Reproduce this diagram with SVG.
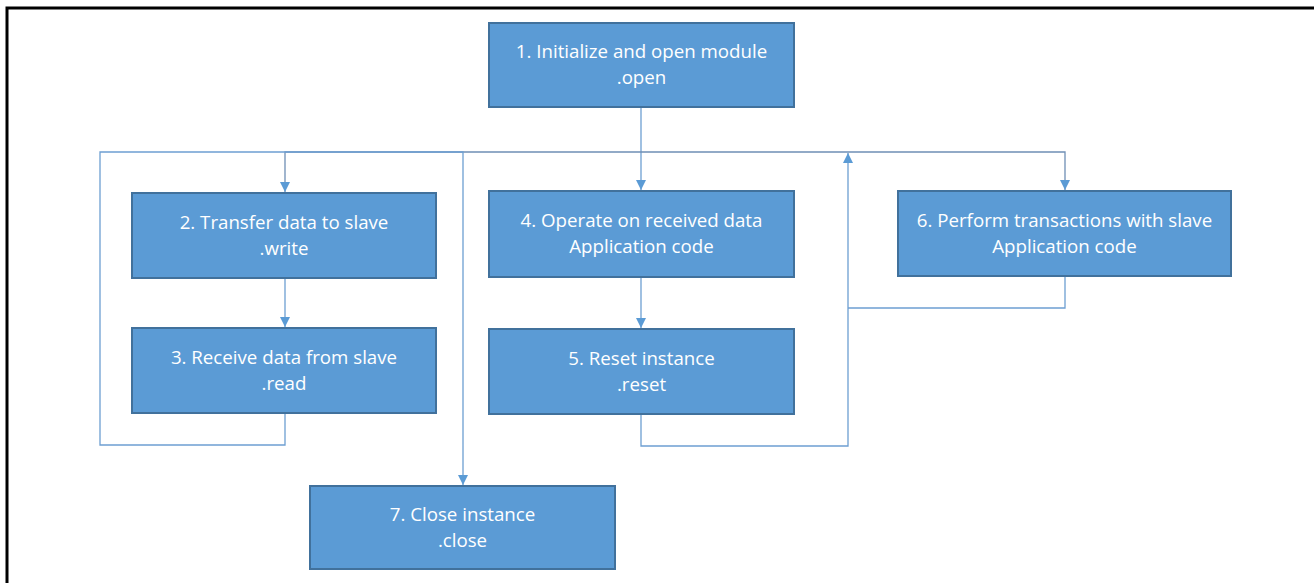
<svg xmlns="http://www.w3.org/2000/svg" width="1314" height="583" viewBox="0 0 1314 583">
<defs>
<style>
.box{fill:#5b9bd5;stroke:#41719c;stroke-width:2}
.t{fill:#ffffff;font-family:"Open Sans","Liberation Sans",sans-serif;font-size:18.7px;text-anchor:middle}
.c{fill:none;stroke:#6d9fd2;stroke-width:1.3}
.cd{fill:none;stroke:#6f8fb5;stroke-width:1.3}
</style>
<marker id="ah" viewBox="0 0 10 10" refX="10" refY="5" markerWidth="10" markerHeight="10" markerUnits="userSpaceOnUse" orient="auto">
<path d="M0,0 L10,5 L0,10 z" fill="#5b9bd5"/>
</marker>
</defs>
<rect x="0" y="0" width="1314" height="583" fill="#ffffff"/>
<path d="M7,583 L7,8 L1314,8" fill="none" stroke="#000000" stroke-width="3"/>
<g id="connectors">
<path class="c" d="M641,108 L641,190" marker-end="url(#ah)"/>
<path class="cd" d="M641,152 L285,152 L285,192" marker-end="url(#ah)"/>
<path class="cd" d="M641,152 L1065,152 L1065,190" marker-end="url(#ah)"/>
<path class="c" d="M285,279 L285,327" marker-end="url(#ah)"/>
<path class="c" d="M641,278 L641,328" marker-end="url(#ah)"/>
<path class="c" d="M285,414 L285,445 L100,445 L100,152 L463,152 L463,485" marker-end="url(#ah)"/>
<path class="c" d="M641,415 L641,446 L848,446 L848,153" marker-end="url(#ah)"/>
<path class="c" d="M1065,277 L1065,308 L848,308"/>
</g>
<g id="n1"><rect class="box" x="489" y="23" width="305" height="84"/><text class="t" x="641.5" y="58">1. Initialize and open module</text><text class="t" x="641.5" y="84">.open</text></g>
<g id="n2"><rect class="box" x="132" y="193" width="304" height="85"/><text class="t" x="284" y="229">2. Transfer data to slave</text><text class="t" x="284" y="255">.write</text></g>
<g id="n3"><rect class="box" x="132" y="328" width="304" height="85"/><text class="t" x="284" y="364">3. Receive data from slave</text><text class="t" x="284" y="390">.read</text></g>
<g id="n4"><rect class="box" x="489" y="191" width="305" height="86"/><text class="t" x="641.5" y="227">4. Operate on received data</text><text class="t" x="641.5" y="253">Application code</text></g>
<g id="n5"><rect class="box" x="489" y="329" width="305" height="85"/><text class="t" x="641.5" y="365">5. Reset instance</text><text class="t" x="641.5" y="391">.reset</text></g>
<g id="n6"><rect class="box" x="898" y="191" width="333" height="85"/><text class="t" x="1064.5" y="227">6. Perform transactions with slave</text><text class="t" x="1064.5" y="253">Application code</text></g>
<g id="n7"><rect class="box" x="310" y="486" width="305" height="83"/><text class="t" x="462.5" y="521">7. Close instance</text><text class="t" x="462.5" y="547">.close</text></g>
</svg>
